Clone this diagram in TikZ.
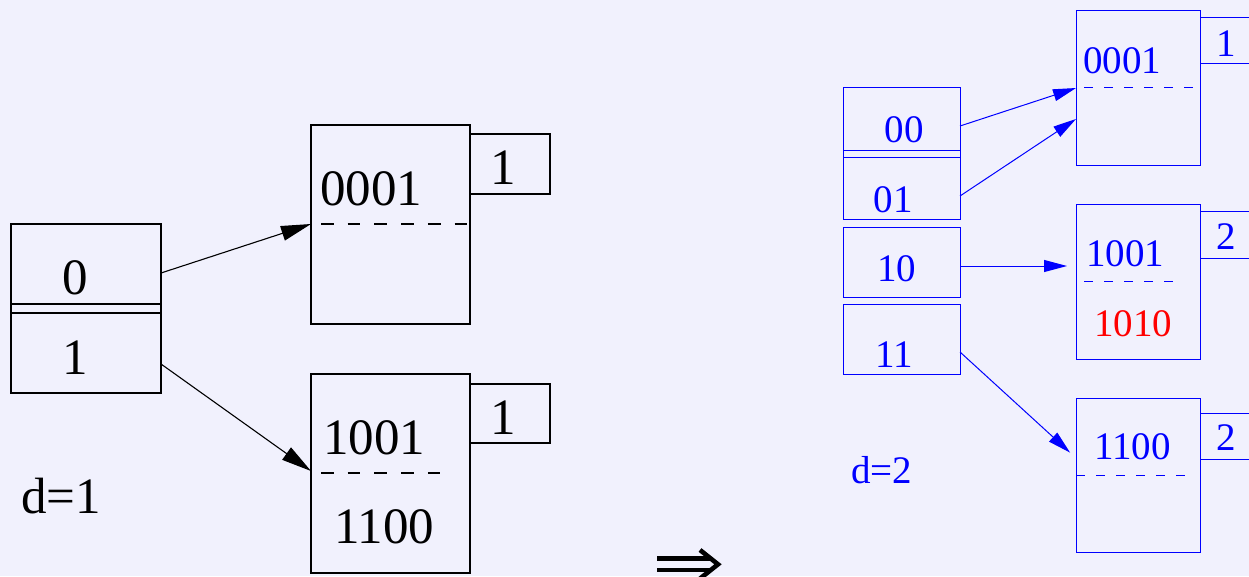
\documentclass[tikz,border=0pt]{standalone}
\usepackage{fontspec}
\setmainfont{Liberation Serif}
\usetikzlibrary{arrows.meta,calc,fit}
\definecolor{pagebg}{RGB}{241,241,253}
\tikzset{
  rect/.style={draw, inner sep=0pt, outer sep=0pt},
  blk/.style={line width=1.1pt, draw=black},
  blu/.style={line width=1pt, draw=blue},
  bigtxt/.style={font=\fontsize{51}{51}\selectfont, inner sep=0pt, text=black},
  smltxt/.style={font=\fontsize{39}{39}\selectfont, inner sep=0pt, text=blue},
  blkdash/.style={blk, dash pattern=on 12.7pt off 14pt},
  bludash/.style={blu, dash pattern=on 9.3pt off 10.7pt},
  blkarrow/.style={blk, -{Triangle[length=30pt,width=15pt]}},
  bluarrow/.style={blu, -{Triangle[length=23pt,width=12pt]}},
  implies/.style={line width=4.6pt, draw=black},
}
\begin{document}
\begin{tikzpicture}[x=1pt,y=-1pt]
\useasboundingbox (0,0) rectangle (1249,576);
\fill[pagebg] (0,0) rectangle (1249,576);
\clip (0,0) rectangle (1249,576);

% ---- global depth 1: directory and buckets ----
\node[rect, blk, fit={(11,224) (161,393)}] (dir1) {};
\draw[blk] (11,304) -- (161,304) (11,313) -- (161,313);
\node[bigtxt, anchor=base] (k0) at (75,294) {0};
\node[bigtxt, anchor=base] (k1) at (75,374) {1};

\node[rect, blk, fit={(311,125) (470,324)}] (b1) {};
\node[rect, blk, fit={(470,134) (550,194)}] (l1) {};
\node[bigtxt, anchor=base west] (v1) at (320,205) {0001};
\draw[blkdash] (321,224) -- (470,224);
\node[bigtxt, anchor=base] (n1) at (503,184) {1};

\node[rect, blk, fit={(311,374) (470,573)}] (b2) {};
\node[rect, blk, fit={(470,384) (550,443)}] (l2) {};
\node[bigtxt, anchor=base west] (v2) at (323,454) {1001};
\draw[blkdash] (321,473) -- (440,473);
\node[bigtxt, anchor=base west] (v3) at (334,543) {1100};
\node[bigtxt, anchor=base] (n2) at (503,434) {1};

\node[bigtxt, anchor=base west] (d1) at (21,513) {d=1};

\draw[blkarrow] ([yshift=-49pt]dir1.north east) -- ([yshift=-99pt]b1.north west);
\draw[blkarrow] ([yshift=-140pt]dir1.north east) -- ([yshift=-97pt]b2.north west);

% ---- transition: bold double arrow ----
\draw[implies, line cap=butt] (657,558.5) -- (711,558.5) (657,570) -- (711,570);
\draw[implies, line join=miter, line cap=butt] (700,550) -- (718,564.3) -- (700,578.6);

% ---- global depth 2: directory and buckets ----
\node[rect, blu, fit={(843,87) (960,219)}] (dA) {};
\draw[blu] (843,150) -- (960,150) (843,157) -- (960,157);
\node[smltxt, anchor=base] (k00) at (904,142) {00};
\node[smltxt, anchor=base] (k01) at (893,212) {01};
\node[rect, blu, fit={(843,227) (960,297)}] (dB) {};
\node[smltxt, anchor=base] (k10) at (896.5,281) {10};
\node[rect, blu, fit={(843,304) (960,374)}] (dC) {};
\node[smltxt, anchor=base] (k11) at (894.5,367) {11};

\node[rect, blu, fit={(1076,10) (1200,165)}] (bA) {};
\node[rect, blu, fit={(1200,17) (1262,63)}] (lA) {};
\node[smltxt, anchor=base west] (vA) at (1083,73) {0001};
\draw[bludash] (1084,87) -- (1198,87);
\node[smltxt, anchor=base] (nA) at (1226,56) {1};

\node[rect, blu, fit={(1076,204) (1200,359)}] (bB) {};
\node[rect, blu, fit={(1200,211) (1262,258)}] (lB) {};
\node[smltxt, anchor=base west] (vB) at (1086,266) {1001};
\draw[bludash] (1084,281) -- (1177,281);
\node[smltxt, anchor=base west, text=red] (vB2) at (1094,336) {1010};
\node[smltxt, anchor=base] (nB) at (1226,249) {2};

\node[rect, blu, fit={(1076,398) (1200,552)}] (bC) {};
\node[rect, blu, fit={(1200,413) (1262,459)}] (lC) {};
\node[smltxt, anchor=base west] (vC) at (1094,459) {1100};
\draw[bludash] (1076,475) -- (1190,475);
\node[smltxt, anchor=base] (nC) at (1226,450) {2};

\node[smltxt, anchor=base west] (d2) at (851,483) {d=2};

\draw[bluarrow] ([yshift=-39pt]dA.north east) -- ([yshift=-78pt]bA.north west);
\draw[bluarrow] ([yshift=-109pt]dA.north east) -- ([yshift=-109pt]bA.north west);
\draw[bluarrow, shorten >=9pt] ([yshift=-39pt]dB.north east) -- ([yshift=-62pt]bB.north west);
\draw[bluarrow, shorten >=8pt] ([yshift=-48pt]dC.north east) -- ([yshift=-60pt]bC.north west);
\end{tikzpicture}
\end{document}
